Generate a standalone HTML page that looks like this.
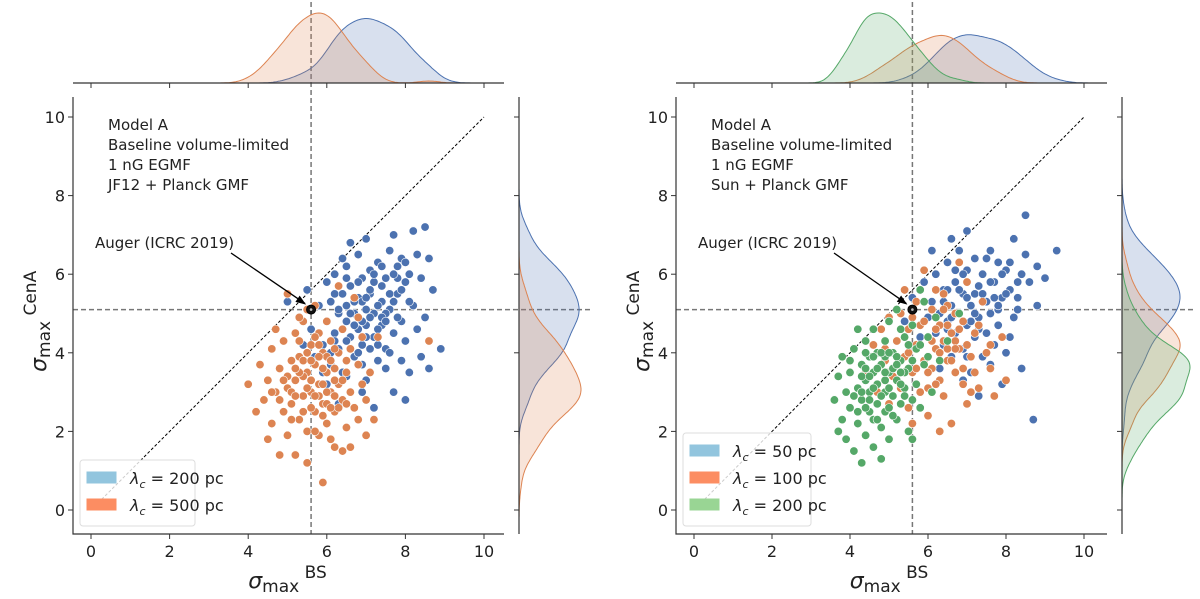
<!DOCTYPE html>
<html><head><meta charset="utf-8">
<style>
html,body{margin:0;padding:0;background:#fff;}
svg{display:block;font-family:"DejaVu Sans","Liberation Sans",sans-serif;}
</style></head>
<body>
<svg id="chart" width="1200" height="599" viewBox="0 0 1200 599"></svg>
<script>
// ---- data ----
const leftBlueX=[5.0,5.3,5.5,5.6,5.8,5.9,6.0,6.0,6.1,6.1,6.2,6.2,6.3,6.3,6.4,6.4,6.5,6.5,6.5,6.6,6.6,6.7,6.7,6.8,6.8,6.8,6.9,6.9,7.0,7.0,7.0,7.1,7.1,7.2,7.2,7.3,7.3,7.4,7.4,7.5,7.5,7.6,7.6,7.7,7.7,7.8,7.8,7.9,7.9,8.0,8.0,8.1,8.1,8.2,8.2,8.3,8.3,8.4,8.5,8.5,8.6,8.7,8.9,8.6,7.2,6.9,6.3,6.0,5.7,5.4,6.6,7.0,6.2,6.8,7.3,7.5,7.9,8.4,6.4,7.7,6.1,5.9,6.7,7.1,7.4,6.5,8.0,7.6,6.9,7.2,
6.3,6.5,6.7,6.9,7.1,7.3,7.5,7.7,7.9,6.4,6.6,6.8,7.0,7.2,7.4,7.6,7.8,8.0,6.2,6.6,7.0,7.4,7.8,6.9,7.3,7.7,8.1,6.5,7.1,7.5];
const leftBlueY=[5.3,4.9,5.6,4.6,5.2,4.2,5.8,4.8,3.7,5.3,4.5,6.0,5.0,4.1,5.5,3.5,4.8,6.2,5.2,4.4,5.7,3.9,5.0,6.5,4.6,5.4,4.2,5.9,5.1,3.3,4.7,6.1,5.5,4.4,5.0,6.3,3.8,5.3,4.7,5.9,4.1,6.6,5.1,4.5,3.0,6.2,5.5,4.8,6.4,5.8,4.3,6.0,3.5,7.1,5.2,6.5,4.6,5.9,7.2,4.9,6.4,5.6,4.1,3.6,2.6,3.0,2.7,3.2,3.9,4.2,6.8,6.9,5.5,4.0,4.2,3.6,3.8,3.9,6.4,7.0,4.0,3.5,4.7,4.9,5.7,3.4,2.8,4.0,5.3,5.8,
5.1,4.3,5.3,4.8,5.6,4.6,5.0,5.3,5.6,4.6,5.0,5.8,4.4,6.0,4.9,5.5,4.9,6.3,4.3,4.1,5.4,6.2,5.9,3.7,5.2,6.0,5.3,5.9,4.1,4.8];
const leftOrangeX=[4.3,4.4,4.5,4.6,4.6,4.7,4.8,4.8,4.9,4.9,5.0,5.0,5.1,5.1,5.2,5.2,5.2,5.3,5.3,5.4,5.4,5.5,5.5,5.5,5.6,5.6,5.7,5.7,5.7,5.8,5.8,5.8,5.9,5.9,5.9,6.0,6.0,6.0,6.1,6.1,6.1,6.2,6.2,6.2,6.3,6.3,6.4,6.4,6.4,6.5,6.5,6.6,6.6,6.7,6.7,6.8,6.8,6.9,6.9,7.0,7.1,7.2,7.3,8.6,5.0,5.5,4.2,4.5,6.3,7.0,5.3,4.7,5.6,6.0,5.8,5.4,6.2,5.9,5.1,6.5,4.0,5.7,6.6,6.8,
5.0,5.2,5.4,5.6,5.8,6.0,6.2,6.4,5.1,5.3,5.5,5.7,5.9,6.1,6.3,4.9,5.6,6.0,5.4,5.8,6.2,4.8,5.5,6.5,5.2,5.9,6.1,5.3,5.7,4.6];
const leftOrangeY=[3.7,2.8,3.3,2.2,4.1,3.0,1.4,3.6,2.5,4.3,3.1,1.9,3.8,2.7,4.5,3.3,1.4,2.3,3.9,2.9,4.8,3.5,2.0,1.2,4.2,3.0,2.5,3.7,5.2,1.9,4.5,3.2,2.7,4.0,0.7,3.5,2.2,4.8,3.0,1.8,4.3,3.6,2.5,1.6,4.0,3.2,2.8,4.6,1.5,3.5,2.1,4.1,3.0,2.6,5.4,3.7,2.3,3.2,4.4,2.8,3.5,2.3,4.4,4.3,5.5,5.1,2.5,1.8,5.7,1.9,4.9,4.6,2.6,3.9,2.9,3.4,3.3,3.6,3.0,2.7,3.2,4.4,1.6,4.9,
3.4,2.9,3.8,3.3,3.9,2.7,4.1,3.3,2.3,3.5,4.0,2.9,3.2,3.8,2.6,3.3,3.8,3.0,2.5,4.2,2.9,2.8,3.1,3.8,3.6,2.4,2.6,4.3,2.0,3.0];
const rightBlueX=[5.4,5.6,5.8,5.9,6.0,6.0,6.1,6.2,6.2,6.3,6.3,6.4,6.4,6.5,6.5,6.6,6.6,6.7,6.7,6.8,6.8,6.9,6.9,7.0,7.0,7.1,7.1,7.2,7.2,7.3,7.3,7.4,7.4,7.5,7.5,7.6,7.6,7.7,7.7,7.8,7.8,7.9,8.0,8.0,8.1,8.2,8.2,8.3,8.4,8.5,8.5,8.6,8.7,8.8,8.8,9.0,9.3,8.4,7.9,7.3,6.9,7.6,8.1,6.1,7.0,6.6,8.3,7.2,6.5,7.8,
6.4,6.6,6.8,7.0,7.2,7.4,7.6,7.8,8.0,6.5,6.9,7.3,7.7,8.1,6.7,7.1,7.5,7.9,8.3,7.0];
const rightBlueY=[4.8,5.4,4.4,5.8,4.9,3.9,5.3,4.5,6.0,5.0,3.6,5.6,4.2,6.3,4.8,5.2,3.9,5.8,4.5,6.6,5.0,4.1,5.5,6.1,4.7,5.2,3.5,6.4,4.4,5.7,4.9,6.0,3.9,5.3,4.5,6.6,5.0,4.2,5.8,6.3,4.7,5.4,6.1,4.0,5.6,6.9,4.9,5.4,3.6,7.5,6.5,5.8,2.3,5.2,6.2,5.9,6.6,6.0,3.2,2.9,3.3,3.7,4.4,6.6,7.1,6.9,5.1,5.5,5.6,5.1,
5.3,4.9,5.6,5.4,5.0,5.5,5.8,5.2,5.5,4.6,6.0,4.6,5.4,6.3,6.1,4.8,6.4,6.0,5.8,3.9];
const rightOrangeX=[4.4,4.6,4.7,4.8,4.9,5.0,5.0,5.1,5.2,5.3,5.3,5.4,5.5,5.5,5.6,5.7,5.7,5.8,5.8,5.9,6.0,6.0,6.1,6.1,6.2,6.2,6.3,6.3,6.4,6.4,6.5,6.5,6.6,6.6,6.7,6.7,6.8,6.9,6.9,7.0,7.0,7.1,7.2,7.3,7.4,7.5,7.7,7.9,8.0,5.9,6.8,5.4,6.3,5.6,7.6,4.9,6.0,6.5,
5.5,5.7,5.9,6.1,6.3,6.5,6.7,6.9,5.6,5.8,6.0,6.2,6.4,6.6,6.8,7.0,7.2,5.4,6.2,6.7,7.3,7.6,5.2,6.4,7.1];
const rightOrangeY=[3.5,4.2,3.0,4.6,3.8,2.7,4.9,3.4,4.3,3.1,5.0,3.9,4.6,2.6,3.5,4.2,5.3,3.0,4.7,3.8,4.4,2.4,5.1,3.6,4.1,5.6,3.3,4.7,2.9,4.3,5.2,3.8,4.5,2.2,3.5,5.0,4.1,3.2,4.8,2.7,5.8,3.9,4.5,3.1,5.3,4.0,2.9,4.4,3.3,6.1,6.3,5.6,2.0,2.2,3.6,4.1,3.1,4.1,
4.0,3.6,4.8,4.3,4.0,4.7,4.3,3.6,4.9,4.2,3.5,4.6,5.1,3.8,4.6,4.2,3.5,4.4,3.2,4.1,4.7,4.2,3.7,5.5,3.0];
const rightGreenX=[3.6,3.7,3.8,3.8,3.9,3.9,4.0,4.0,4.1,4.1,4.2,4.2,4.3,4.3,4.3,4.4,4.4,4.4,4.5,4.5,4.5,4.6,4.6,4.6,4.7,4.7,4.7,4.8,4.8,4.8,4.9,4.9,4.9,5.0,5.0,5.0,5.1,5.1,5.2,5.2,5.2,5.3,5.3,5.4,5.4,5.5,5.5,5.6,5.6,5.7,5.7,5.8,5.9,5.9,6.0,6.1,6.2,6.3,6.5,6.8,4.1,4.6,5.0,5.3,4.4,3.7,4.9,5.6,4.2,5.8,
4.3,4.5,4.7,4.9,5.1,5.3,5.5,4.4,4.6,4.8,5.0,5.2,5.4,4.2,4.5,4.8,5.1,5.4,4.6,4.9,5.2,4.3,4.7,5.0,5.3,4.0,4.4,5.6,5.8,6.0];
const rightGreenY=[2.8,3.4,2.3,3.9,3.0,1.8,3.5,2.6,4.1,1.5,3.1,2.2,3.7,1.2,2.8,4.3,3.3,1.9,2.5,3.9,3.0,1.6,3.5,4.6,2.7,3.2,4.0,2.1,3.7,1.3,3.0,4.3,2.5,3.5,4.8,1.8,2.9,4.0,3.3,2.3,5.1,3.8,2.7,4.4,3.1,2.0,3.6,4.7,1.8,3.2,4.1,2.6,3.7,5.3,4.4,3.0,4.9,3.8,4.3,5.0,2.9,2.3,2.6,4.6,3.6,2.0,3.9,2.8,4.6,5.6,
3.4,2.8,3.6,3.3,3.6,3.2,4.2,2.6,3.9,2.9,3.1,3.9,3.5,2.5,3.4,4.0,2.4,2.9,3.1,3.5,3.7,3.0,2.3,4.0,3.5,3.8,4.0,3.8,4.2,3.9];
const xTickLabels=[0,2,4,6,8,10];
const yTickLabels=[0,2,4,6,8,10];
const leftLegend=["200 pc","500 pc"];
const rightLegend=["50 pc","100 pc","200 pc"];
const augerPoint=[5.6,5.1];

const NS="http://www.w3.org/2000/svg";
const svg=document.getElementById('chart');
function el(tag,attrs,parent){const e=document.createElementNS(NS,tag);for(const k in attrs)e.setAttribute(k,attrs[k]);(parent||svg).appendChild(e);return e;}

const COLORS={blue:'#4c72b0',orange:'#dd8452',green:'#55a868'};
const LEGCOL={blue:'#92c5de',orange:'#fc8d62',green:'#99d594'};

function kde(data,grid){
  const n=data.length;const m=data.reduce((a,b)=>a+b,0)/n;
  const sd=Math.sqrt(data.reduce((a,b)=>a+(b-m)*(b-m),0)/(n-1));
  const h=0.85*sd*Math.pow(n,-0.2);
  return grid.map(g=>{let s=0;for(const d of data){const z=(g-d)/h;s+=Math.exp(-0.5*z*z);}return s/(n*h*Math.sqrt(2*Math.PI));});
}

function panel(cfg){
  const g=el('g',{});
  
  
  const X=v=>cfg.x0+v*cfg.xs, Y=v=>510-v*39.3;
  const L=cfg.left,R=cfg.right,T=97,B=534;
  const vl=el('line',{x1:X(augerPoint[0]),x2:X(augerPoint[0]),y1:2,y2:B,stroke:'#777','stroke-width':1.5,'stroke-dasharray':'5,3'},g);
  
  
  const hl=el('line',{x1:L,x2:cfg.mright,y1:Y(augerPoint[1]),y2:Y(augerPoint[1]),stroke:'#777','stroke-width':1.5,'stroke-dasharray':'5,3'},g);
  
  
  const dg=el('line',{x1:X(0),y1:Y(0),x2:X(10),y2:Y(10),stroke:'#000','stroke-width':1,'stroke-dasharray':'3,2'},g);
  
  
  const total=cfg.series.reduce((a,s)=>a+s.x.length,0);
  const gx=[],gy=[];for(let i=0;i<=240;i++){gx.push(-0.5+i*0.045);gy.push(-0.6+i*0.045);}
  const dx=cfg.series.map(s=>kde(s.x,gx).map(v=>v*s.x.length/total));
  const dy=cfg.series.map(s=>kde(s.y,gy).map(v=>v*s.y.length/total));
  const mx=Math.max(...dx.flat()),my=Math.max(...dy.flat());
  cfg.series.forEach((s,si)=>{
    const xr=R-15;
    let pts=[];gx.forEach((v,i)=>{if(X(v)>=L&&X(v)<=xr)pts.push([X(v),83-dx[si][i]/mx*cfg.topH]);});
    let p=`M${pts[0][0].toFixed(1)},83`;pts.forEach(q=>{p+=` L${q[0].toFixed(1)},${q[1].toFixed(1)}`;});p+=` L${pts[pts.length-1][0].toFixed(1)},83 Z`;
    const a=el('path',{d:p,fill:COLORS[s.c],'fill-opacity':0.22,stroke:COLORS[s.c],'stroke-width':1},g);
    
    
    let pr=[];gy.forEach((v,i)=>{if(Y(v)>=T&&Y(v)<=B)pr.push([R+dy[si][i]/my*cfg.rightW,Y(v)]);});
    let q=`M${R},${pr[0][1].toFixed(1)}`;pr.forEach(c=>{q+=` L${c[0].toFixed(1)},${c[1].toFixed(1)}`;});q+=` L${R},${pr[pr.length-1][1].toFixed(1)} Z`;
    const b=el('path',{d:q,fill:COLORS[s.c],'fill-opacity':0.22,stroke:COLORS[s.c],'stroke-width':1},g);
    
    
  });
  cfg.series.forEach(s=>{
    s.x.forEach((v,i)=>{
      const c=el('circle',{cx:X(v),cy:Y(s.y[i]),r:4.2,fill:COLORS[s.c],stroke:'#fff','stroke-width':0.6},g);
      
      
    });
  });
  const am=el('circle',{cx:X(augerPoint[0]),cy:Y(augerPoint[1]),r:4.5,fill:'#111',stroke:'#000','stroke-width':1},g);
  
  
  const ai=el('circle',{cx:X(augerPoint[0]),cy:Y(augerPoint[1]),r:1.3,fill:'#bbb'},g);
  
  
  const ax1=L+158,ay1=253,ax2=X(augerPoint[0])-6,ay2=Y(augerPoint[1])-6;
  const ar=el('line',{x1:ax1,y1:ay1,x2:ax2,y2:ay2,stroke:'#000','stroke-width':1.3},g);
  
  
  const ang=Math.atan2(ay2-ay1,ax2-ax1);
  const hx=ax2+1,hy=ay2+1;
  const ah=el('polygon',{points:`${hx},${hy} ${hx-11*Math.cos(ang-0.35)},${hy-11*Math.sin(ang-0.35)} ${hx-11*Math.cos(ang+0.35)},${hy-11*Math.sin(ang+0.35)}`,fill:'#000'},g);
  
  
  const at=el('text',{x:L+22,y:248,'font-size':15,fill:'#222'},g);at.textContent='Auger (ICRC 2019)';
  
  
  cfg.text.forEach((t,i)=>{
    const tt=el('text',{x:L+35,y:130+i*20,'font-size':15,fill:'#222'},g);tt.textContent=t;
    
    
  });
  const sp=el('path',{d:`M${L},${T} L${L},${B} L${R-15},${B}`,fill:'none',stroke:'#333','stroke-width':1.2},g);
  
  
  const ts=el('line',{x1:L,x2:R-15,y1:83,y2:83,stroke:'#333','stroke-width':1.2},g);
  
  
  const rs=el('line',{x1:R,x2:R,y1:T,y2:B,stroke:'#333','stroke-width':1.2},g);
  
  
  xTickLabels.forEach(v=>{
    const t=el('line',{x1:X(v),x2:X(v),y1:B,y2:B+5,stroke:'#333','stroke-width':1},g);
    
    
    const t2=el('line',{x1:X(v),x2:X(v),y1:83,y2:88,stroke:'#333','stroke-width':1},g);
    
    
    const tl=el('text',{x:X(v),y:B+23,'font-size':16,'text-anchor':'middle',fill:'#222'},g);tl.textContent=v;
    
    
  });
  yTickLabels.forEach(v=>{
    const t=el('line',{x1:L-5,x2:L,y1:Y(v),y2:Y(v),stroke:'#333','stroke-width':1},g);
    
    
    const t2=el('line',{x1:R-5,x2:R,y1:Y(v),y2:Y(v),stroke:'#333','stroke-width':1},g);
    
    
    const tl=el('text',{x:L-8,y:Y(v)+6,'font-size':16,'text-anchor':'end',fill:'#222'},g);tl.textContent=v;
    
    
  });
  const xt=el('text',{x:X(5),y:588,'text-anchor':'middle',fill:'#222'},g);
  xt.innerHTML='<tspan font-size="22" font-style="italic">σ</tspan><tspan font-size="17" dy="4">max</tspan><tspan font-size="17" dy="-14"> BS</tspan>';
  
  
  const yt=el('text',{x:0,y:0,'text-anchor':'middle',fill:'#222',transform:`translate(${L-27},${Y(4.8)}) rotate(-90)`},g);
  yt.innerHTML='<tspan font-size="22" font-style="italic">σ</tspan><tspan font-size="17" dy="4">max</tspan><tspan font-size="17" dy="-14"> CenA</tspan>';
  
  
  const n=cfg.legend.length,lh=27,lx=L+7,ly=B-12-n*lh-8;
  const lb=el('rect',{x:lx,y:ly,width:cfg.legW,height:n*lh+12,rx:3,fill:'#fff','fill-opacity':0.8,stroke:'#ddd'},g);
  
  
  cfg.legend.forEach((t,i)=>{
    const c=cfg.series[cfg.series.length-cfg.legend.length+i].c;
    const yy=ly+8+i*lh;
    const sw=el('rect',{x:lx+7,y:yy+4,width:29,height:11,fill:LEGCOL[c],stroke:LEGCOL[c]},g);
    
    
    const lt=el('text',{x:lx+50,y:yy+16,'font-size':16,fill:'#222'},g);
    lt.innerHTML='<tspan font-style="italic">λ</tspan><tspan font-size="11" dy="4" font-style="italic">c</tspan><tspan dy="-4"> = '+t+'</tspan>';
    
    
  });
}

panel({name:'left-panel',x0:91,xs:39.3,left:73,right:519,mright:590,topH:70,rightW:62,legW:115,
  text:['Model A','Baseline volume-limited','1 nG EGMF','JF12 + Planck GMF'],
  series:[{x:leftBlueX,y:leftBlueY,c:'blue'},{x:leftOrangeX,y:leftOrangeY,c:'orange'}],legend:leftLegend});
panel({name:'right-panel',x0:694,xs:39.0,left:676,right:1122,mright:1195,topH:70,rightW:68,legW:128,
  text:['Model A','Baseline volume-limited','1 nG EGMF','Sun + Planck GMF'],
  series:[{x:rightBlueX,y:rightBlueY,c:'blue'},{x:rightOrangeX,y:rightOrangeY,c:'orange'},{x:rightGreenX,y:rightGreenY,c:'green'}],legend:rightLegend});
</script>
</body></html>
